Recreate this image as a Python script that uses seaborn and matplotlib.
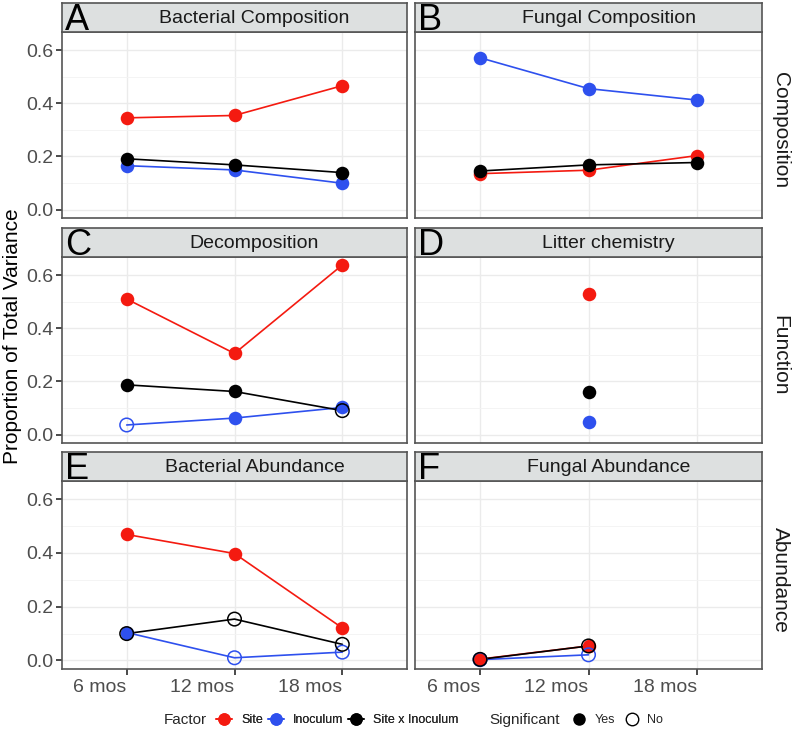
import numpy as np
import pandas as pd
import matplotlib
matplotlib.use("Agg")
import matplotlib.pyplot as plt
from matplotlib.lines import Line2D
import seaborn as sns

# values
months = ['6 mos', '12 mos', '18 mos']
factors = ['Site', 'Inoculum', 'Site x Inoculum']
panel_titles = ['Bacterial Composition', 'Fungal Composition', 'Decomposition',
                'Litter chemistry', 'Bacterial Abundance', 'Fungal Abundance']
panel_letters = ['A', 'B', 'C', 'D', 'E', 'F']
row_labels = ['Composition', 'Function', 'Abundance']

# one list per factor (Site, Inoculum, Site x Inoculum); None = not measured
bact_comp = [[0.345, 0.354, 0.466], [0.165, 0.149, 0.099], [0.191, 0.168, 0.139]]
bact_comp_sig = [[1, 1, 1], [1, 1, 1], [1, 1, 1]]
fung_comp = [[0.135, 0.148, 0.203], [0.571, 0.455, 0.412], [0.145, 0.168, 0.177]]
fung_comp_sig = [[1, 1, 1], [1, 1, 1], [1, 1, 1]]
decomp = [[0.510, 0.305, 0.638], [0.036, 0.062, 0.102], [0.187, 0.162, 0.090]]
decomp_sig = [[1, 1, 1], [0, 1, 1], [1, 1, 0]]
litter = [[None, 0.529, None], [None, 0.049, None], [None, 0.159, None]]
litter_sig = [[1, 1, 1], [1, 1, 1], [1, 1, 1]]
bact_abund = [[0.469, 0.398, 0.121], [0.104, 0.010, 0.031], [0.100, 0.154, 0.060]]
bact_abund_sig = [[1, 1, 1], [1, 0, 0], [0, 0, 0]]
fung_abund = [[0.005, 0.054, None], [0.003, 0.021, None], [0.004, 0.054, None]]
fung_abund_sig = [[1, 1, 1], [0, 0, 0], [0, 0, 0]]

panel_values = [bact_comp, fung_comp, decomp, litter, bact_abund, fung_abund]
panel_sigs = [bact_comp_sig, fung_comp_sig, decomp_sig, litter_sig, bact_abund_sig, fung_abund_sig]

rows = []
for title, vals, sigs in zip(panel_titles, panel_values, panel_sigs):
    for f, fv, fs in zip(factors, vals, sigs):
        for m, v, s in zip(months, fv, fs):
            if v is not None:
                rows.append({'panel': title, 'month': m, 'factor': f, 'value': v,
                             'sig': 'Yes' if s else 'No'})
df = pd.DataFrame(rows)
df['pos'] = pd.Categorical(df['month'], categories=months).codes + 1

palette = {'Site': '#F41A10', 'Inoculum': '#2E50EE', 'Site x Inoculum': '#000000'}

sns.set_theme(style="whitegrid")
plt.rcParams['font.family'] = ['Liberation Sans', 'DejaVu Sans']

W, H = 793, 731
fig = plt.figure(figsize=(W / 100, H / 100), dpi=100)

col_x = [(62, 407), (415, 762)]
row_y = [(32, 218), (257, 443), (481, 669)]
strip_h = 29

for i, title in enumerate(panel_titles):
    r, c = divmod(i, 2)
    x0, x1 = col_x[c]
    y0, y1 = row_y[r]
    ax = fig.add_axes([x0 / W, 1 - y1 / H, (x1 - x0) / W, (y1 - y0) / H])
    sub = df[df['panel'] == title]

    sns.lineplot(data=sub, x='pos', y='value', hue='factor', hue_order=factors,
                 palette=palette, estimator=None, sort=True, legend=False,
                 linewidth=1.2, ax=ax, zorder=2)
    for f in factors:
        for _, pt in sub[sub['factor'] == f].iterrows():
            if pt['sig'] == 'Yes':
                sns.scatterplot(x=[pt['pos']], y=[pt['value']], color=palette[f],
                                s=95, linewidth=0, ax=ax, zorder=3)
            else:
                sns.scatterplot(x=[pt['pos']], y=[pt['value']], color=palette[f],
                                facecolor='none', edgecolor=palette[f],
                                s=95, linewidth=1.1, ax=ax, zorder=3)

    ax.set_xlim(0.4, 3.6)
    ax.set_ylim(-0.0318, 0.668)
    ax.set_xticks([1, 2, 3])
    ax.set_yticks([0, 0.2, 0.4, 0.6])
    ax.set_yticks([0.1, 0.3, 0.5], minor=True)
    ax.grid(True, which='major', color='#EBEBEB', linewidth=1.0)
    ax.grid(True, which='minor', axis='y', color='#F3F3F3', linewidth=0.6)
    ax.grid(False, which='minor', axis='x')
    ax.set_facecolor('white')
    for sp in ax.spines.values():
        sp.set_color('#555555')
        sp.set_linewidth(1.2)
    ax.set_xlabel('')
    ax.set_ylabel('')

    if r == 2:
        ax.set_xticklabels(months, ha='right')
        ax.tick_params(axis='x', length=4, color='#333333', labelsize=14,
                       labelcolor='#4D4D4D', bottom=True, pad=3)
    else:
        ax.set_xticklabels([])
        ax.tick_params(axis='x', length=0)
    if c == 0:
        ax.set_yticklabels(['0.0', '0.2', '0.4', '0.6'])
        ax.tick_params(axis='y', length=4, color='#333333', labelsize=14,
                       labelcolor='#4D4D4D', left=True, pad=2)
    else:
        ax.set_yticklabels([])
        ax.tick_params(axis='y', length=0)
    ax.tick_params(which='minor', length=0)

    # panel strip
    strip = fig.add_axes([x0 / W, 1 - y0 / H, (x1 - x0) / W, strip_h / H])
    strip.set_facecolor('#DDE0E0')
    strip.set_xticks([])
    strip.set_yticks([])
    strip.grid(False)
    for sp in strip.spines.values():
        sp.set_color('#555555')
        sp.set_linewidth(1.2)
    strip.text(0.5 + 20 / (x1 - x0), 0.47, title, ha='center', va='center', fontsize=14,
               color='#1A1A1A', transform=strip.transAxes)
    strip.text(0.008, 0.38, panel_letters[i], ha='left', va='center', fontsize=26,
               color='#000000', transform=strip.transAxes)

# facet row labels on the right
for r, lab in enumerate(row_labels):
    y0, y1 = row_y[r]
    fig.text(780 / W, 1 - ((y0 + y1) / 2 + 5) / H, lab, rotation=-90, ha='center',
             va='center', fontsize=15, color='#1A1A1A')

fig.text(13 / W, 1 - 336 / H, 'Proportion of Total Variance', rotation=90,
         ha='center', va='center', fontsize=15, color='#000000')

# legends
legend_y = 1 - 720 / H
factor_handles = [Line2D([], [], color=palette[f], marker='o', markersize=9,
                         markeredgewidth=0, linewidth=1.2) for f in factors]
sig_handles = [Line2D([], [], color='black', marker='o', markersize=9, linestyle='none',
                      markeredgewidth=0),
               Line2D([], [], color='black', marker='o', markersize=9, linestyle='none',
                      markerfacecolor='none', markeredgewidth=1.0)]
leg1 = fig.legend(factor_handles, factors, loc='center left', ncol=3, frameon=False,
                  bbox_to_anchor=(216 / W, legend_y), fontsize=9,
                  handlelength=1.28, handletextpad=0.72, columnspacing=0.4,
                  borderaxespad=0, borderpad=0)
fig.add_artist(leg1)
fig.legend(sig_handles, ['Yes', 'No'], loc='center left', ncol=2, frameon=False,
           bbox_to_anchor=(573 / W, legend_y), fontsize=9,
           handlelength=1.0, handletextpad=0.72, columnspacing=0.88,
           borderaxespad=0, borderpad=0)
fig.text(164 / W, legend_y, 'Factor', ha='left', va='center', fontsize=11)
fig.text(489 / W, legend_y, 'Significant', ha='left', va='center', fontsize=11)

fig.savefig('out.png', dpi=100)
